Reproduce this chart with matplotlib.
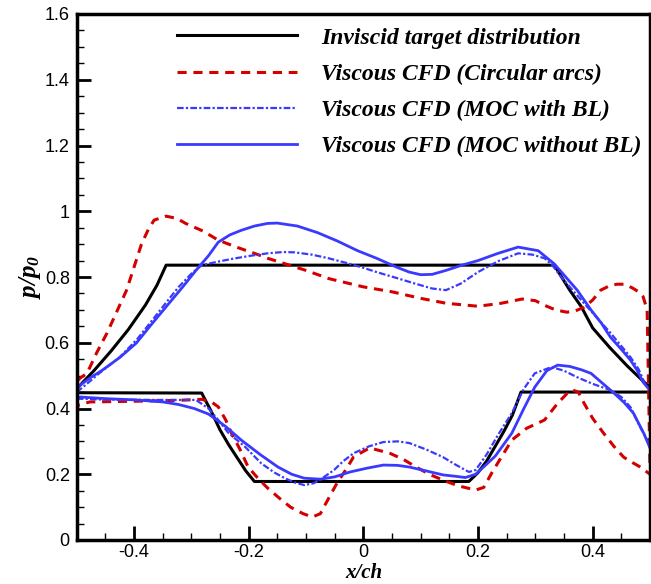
import matplotlib
matplotlib.use("Agg")
import matplotlib.pyplot as plt
from matplotlib.ticker import MultipleLocator

plt.rcParams['mathtext.fontset'] = 'custom'
plt.rcParams['mathtext.it'] = 'Liberation Serif:italic:bold'
plt.rcParams['mathtext.rm'] = 'Liberation Serif:italic:bold'
plt.rcParams['font.family'] = ['Liberation Sans', 'DejaVu Sans']

# Inviscid target distribution (upper / lower)
x_inv_up = [-0.5, -0.47, -0.44, -0.41, -0.38, -0.36, -0.344, 0.333, 0.36, 0.38, 0.40, 0.43, 0.46, 0.49, 0.5]
y_inv_up = [0.46, 0.515, 0.575, 0.64, 0.715, 0.775, 0.836, 0.836, 0.76, 0.71, 0.645, 0.585, 0.53, 0.48, 0.465]
x_inv_lo = [-0.5, -0.282, -0.265, -0.25, -0.235, -0.22, -0.205, -0.19, 0.184, 0.2, 0.215, 0.23, 0.245, 0.26, 0.275, 0.5]
y_inv_lo = [0.448, 0.447, 0.39, 0.335, 0.29, 0.25, 0.21, 0.178, 0.178, 0.205, 0.24, 0.285, 0.33, 0.38, 0.45, 0.45]

# Viscous CFD (Circular arcs)
x_arc_up = [-0.5, -0.5, -0.496, -0.482, -0.465, -0.447, -0.43, -0.413, -0.4, -0.387, -0.375, -0.365, -0.344,
            -0.325, -0.31, -0.28, -0.253, -0.22, -0.19, -0.167, -0.1, -0.06, 0.0, 0.05, 0.1, 0.145, 0.2, 0.24,
            0.277, 0.3, 0.316, 0.335, 0.355, 0.37, 0.385, 0.4, 0.414, 0.428, 0.442, 0.456, 0.47, 0.48, 0.488,
            0.495, 0.5]
y_arc_up = [0.34, 0.45, 0.49, 0.507, 0.57, 0.63, 0.695, 0.76, 0.83, 0.90, 0.945, 0.973, 0.985,
            0.978, 0.963, 0.94, 0.912, 0.89, 0.872, 0.857, 0.82, 0.795, 0.77, 0.755, 0.735, 0.72, 0.711, 0.72,
            0.733, 0.728, 0.714, 0.70, 0.693, 0.697, 0.708, 0.73, 0.76, 0.772, 0.778, 0.778, 0.766, 0.755, 0.74,
            0.7, 0.22]
x_arc_lo = [-0.5, -0.498, -0.477, -0.4, -0.32, -0.282, -0.265, -0.253, -0.24, -0.23, -0.215, -0.201, -0.185,
            -0.167, -0.147, -0.127, -0.105, -0.089, -0.075, -0.069, -0.058, -0.046, -0.03, -0.017, 0.011, 0.046,
            0.07, 0.092, 0.115, 0.139, 0.165, 0.196, 0.21, 0.224, 0.24, 0.259, 0.285, 0.316, 0.339, 0.355, 0.365,
            0.375, 0.385, 0.4, 0.419, 0.437, 0.454, 0.47, 0.483, 0.5]
y_arc_lo = [0.34, 0.41, 0.42, 0.422, 0.425, 0.428, 0.42, 0.405, 0.365, 0.325, 0.275, 0.222, 0.19,
            0.158, 0.128, 0.1, 0.08, 0.07, 0.08, 0.1, 0.135, 0.173, 0.215, 0.253, 0.28, 0.264,
            0.245, 0.222, 0.2, 0.182, 0.165, 0.152, 0.16, 0.204, 0.25, 0.304, 0.34, 0.365, 0.416, 0.445, 0.456,
            0.45, 0.416, 0.37, 0.325, 0.285, 0.252, 0.235, 0.222, 0.2]

# Viscous CFD (MOC with BL)
x_bl_up = [-0.5, -0.489, -0.46, -0.425, -0.395, -0.368, -0.345, -0.322, -0.3, -0.282, -0.25, -0.223, -0.195,
           -0.167, -0.14, -0.12, -0.09, -0.063, -0.03, 0.0, 0.023, 0.058, 0.09, 0.12, 0.144, 0.17, 0.2, 0.235,
           0.27, 0.295, 0.316, 0.33, 0.345, 0.365, 0.385, 0.408, 0.431, 0.45, 0.466, 0.48, 0.49, 0.5]
y_bl_up = [0.45, 0.465, 0.508, 0.556, 0.61, 0.669, 0.72, 0.77, 0.81, 0.836, 0.848, 0.857, 0.865,
           0.872, 0.876, 0.875, 0.868, 0.858, 0.843, 0.828, 0.815, 0.797, 0.78, 0.765, 0.76, 0.78, 0.815, 0.848,
           0.872, 0.868, 0.857, 0.835, 0.8, 0.76, 0.72, 0.675, 0.63, 0.59, 0.556, 0.52, 0.48, 0.455]
x_bl_lo = [-0.5, -0.45, -0.35, -0.292, -0.27, -0.253, -0.235, -0.206, -0.178, -0.155, -0.137, -0.12, -0.103,
           -0.086, -0.07, -0.051, -0.035, -0.017, 0.01, 0.035, 0.06, 0.08, 0.11, 0.139, 0.16, 0.184, 0.196,
           0.215, 0.235, 0.259, 0.28, 0.299, 0.328, 0.35, 0.373, 0.4, 0.431, 0.45, 0.466, 0.483, 0.5]
y_bl_lo = [0.43, 0.427, 0.426, 0.426, 0.4, 0.365, 0.325, 0.283, 0.233, 0.205, 0.188, 0.175, 0.167,
           0.173, 0.19, 0.213, 0.24, 0.264, 0.285, 0.298, 0.3, 0.295, 0.275, 0.252, 0.23, 0.207, 0.213,
           0.26, 0.32, 0.386, 0.46, 0.507, 0.526, 0.515, 0.495, 0.475, 0.456, 0.435, 0.404, 0.343, 0.29]

# Viscous CFD (MOC without BL)
x_nobl_up = [-0.5, -0.494, -0.475, -0.455, -0.425, -0.396, -0.37, -0.339, -0.315, -0.292, -0.27, -0.253,
             -0.233, -0.213, -0.19, -0.167, -0.15, -0.115, -0.08, -0.046, -0.01, 0.023, 0.058, 0.08, 0.1, 0.12,
             0.144, 0.17, 0.2, 0.235, 0.27, 0.305, 0.333, 0.353, 0.373, 0.397, 0.415, 0.431, 0.45, 0.466,
             0.478, 0.488, 0.5]
y_nobl_up = [0.46, 0.471, 0.495, 0.517, 0.555, 0.599, 0.655, 0.72, 0.77, 0.82, 0.865, 0.906,
             0.928, 0.942, 0.955, 0.963, 0.964, 0.955, 0.935, 0.91, 0.88, 0.857, 0.83, 0.815, 0.807, 0.808,
             0.82, 0.835, 0.85, 0.872, 0.891, 0.88, 0.84, 0.80, 0.76, 0.70, 0.66, 0.617, 0.58, 0.547,
             0.515, 0.48, 0.455]
x_nobl_lo = [-0.5, -0.494, -0.45, -0.396, -0.35, -0.322, -0.295, -0.27, -0.24, -0.213, -0.18, -0.149, -0.125,
             -0.103, -0.075, -0.05, -0.023, 0.005, 0.035, 0.06, 0.08, 0.11, 0.139, 0.16, 0.178, 0.196, 0.23,
             0.259, 0.28, 0.299, 0.32, 0.339, 0.36, 0.38, 0.397, 0.415, 0.437, 0.455, 0.471, 0.489, 0.5]
y_nobl_lo = [0.43, 0.435, 0.43, 0.426, 0.42, 0.412, 0.4, 0.383, 0.345, 0.304, 0.26, 0.222, 0.2,
             0.188, 0.185, 0.192, 0.207, 0.218, 0.228, 0.227, 0.222, 0.21, 0.198, 0.194, 0.19, 0.2, 0.255,
             0.325, 0.4, 0.465, 0.515, 0.532, 0.528, 0.518, 0.507, 0.48, 0.447, 0.418, 0.386, 0.325, 0.28]

labels = ['Inviscid target distribution', 'Viscous CFD (Circular arcs)',
          'Viscous CFD (MOC with BL)', 'Viscous CFD (MOC without BL)']

red = '#d40000'
blue = '#3a3aff'

fig = plt.figure(figsize=(6.51, 5.84), dpi=100)
ax = fig.add_axes([76.7 / 651, 44 / 584, 573.3 / 651, 526 / 584])

ax.plot(x_inv_up, y_inv_up, color='black', lw=2.2, label=labels[0])
ax.plot(x_inv_lo, y_inv_lo, color='black', lw=2.2)
ax.plot(x_arc_up, y_arc_up, color=red, lw=2.2, ls=(0, (3, 2.2)), label=labels[1])
ax.plot(x_arc_lo, y_arc_lo, color=red, lw=2.2, ls=(0, (3, 2.2)))
ax.plot(x_bl_up, y_bl_up, color=blue, lw=1.6, ls=(0, (3, 1, 1, 1)), label=labels[2])
ax.plot(x_bl_lo, y_bl_lo, color=blue, lw=1.6, ls=(0, (3, 1, 1, 1)))
ax.plot(x_nobl_up, y_nobl_up, color=blue, lw=2.0, label=labels[3])
ax.plot(x_nobl_lo, y_nobl_lo, color=blue, lw=2.0)

ax.set_xlim(-0.5, 0.5)
ax.set_ylim(0, 1.6)
ax.xaxis.set_minor_locator(MultipleLocator(0.05))
ax.yaxis.set_minor_locator(MultipleLocator(0.05))
ax.set_xticks([-0.4, -0.2, 0, 0.2, 0.4])
ax.set_xticklabels(['-0.4', '-0.2', '0', '0.2', '0.4'])
ax.set_yticks([0, 0.2, 0.4, 0.6, 0.8, 1.0, 1.2, 1.4, 1.6])
ax.set_yticklabels(['0', '0.2', '0.4', '0.6', '0.8', '1', '1.2', '1.4', '1.6'])

ax.tick_params(which='major', direction='in', length=10, width=2, labelsize=13)
ax.tick_params(axis='x', which='major', pad=3)
ax.tick_params(axis='y', which='major', pad=5)
ax.tick_params(which='minor', direction='in', length=5, width=1)
for s in ax.spines.values():
    s.set_linewidth(2.5)

ax.set_xlabel('x/ch', family='Liberation Serif', style='italic', weight='bold', fontsize=15, labelpad=1)
ax.set_ylabel('$p/p_0$', fontsize=18, labelpad=1)

leg = ax.legend(loc='upper left', bbox_to_anchor=(0.175, 0.975), frameon=False, borderpad=0,
                borderaxespad=0, handlelength=5.1, handletextpad=1.0, labelspacing=0.62,
                prop={'family': 'Liberation Serif', 'style': 'italic', 'weight': 'bold', 'size': 17})

fig.savefig('out.png', dpi=100)
